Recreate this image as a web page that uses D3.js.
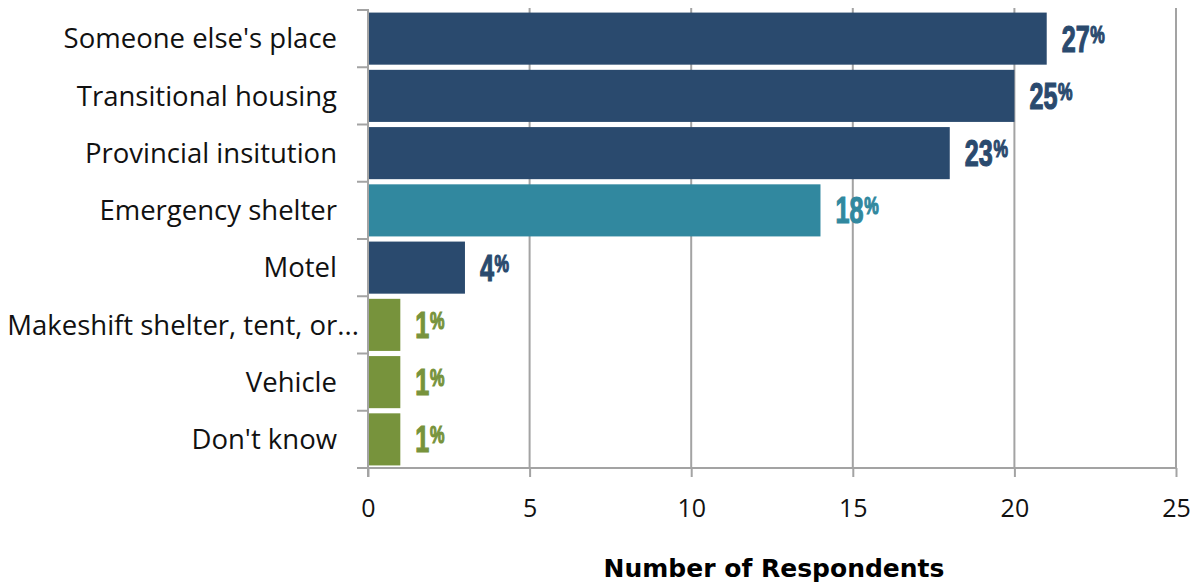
<!DOCTYPE html>
<html>
<head>
<meta charset="utf-8">
<script src="https://cdn.jsdelivr.net/npm/d3@7/dist/d3.min.js"></script>
<style>
  html, body { margin: 0; padding: 0; background: #fff; }
  svg { display: block; }
</style>
</head>
<body>
<svg id="chart" width="1198" height="583"></svg>
<script>
// Where respondents stayed: counts per category with their share labels
const categories = [
  "Someone else's place",
  "Transitional housing",
  "Provincial insitution",
  "Emergency shelter",
  "Motel",
  "Makeshift shelter, tent, or...",
  "Vehicle",
  "Don't know"
];
const counts = [21, 20, 18, 14, 3, 1, 1, 1];
const percents = ["27", "25", "23", "18", "4", "1", "1", "1"];
const groups = ["navy", "navy", "navy", "teal", "navy", "green", "green", "green"];
const xTicks = [0, 5, 10, 15, 20, 25];
const axisTitle = "Number of Respondents";

const palette = { navy: "#2a4a6e", teal: "#31889f", green: "#77933c" };
const gridColor = "#a3a3a3";

const svg = d3.select("#chart");
const plot = { left: 368, right: 1176, top: 10, bottom: 468 };

const x = d3.scaleLinear().domain([0, 25]).range([plot.left, plot.right]);
const y = d3.scaleBand()
  .domain(categories)
  .range([plot.top, plot.bottom])
  .paddingInner(0.09)
  .paddingOuter(0.045);

// vertical gridlines
svg.append("g")
  .selectAll("line")
  .data(xTicks.filter(t => t > 0))
  .join("line")
  .attr("x1", d => x(d)).attr("x2", d => x(d))
  .attr("y1", plot.top - 2).attr("y2", plot.bottom)
  .attr("stroke", gridColor).attr("stroke-width", 2);

// bars
const rows = categories.map((c, i) => ({ c, v: counts[i], p: percents[i], g: groups[i] }));
svg.append("g")
  .selectAll("rect")
  .data(rows)
  .join("rect")
  .attr("x", x(0) + 1)
  .attr("y", d => y(d.c))
  .attr("width", d => x(d.v) - x(0) - 1)
  .attr("height", y.bandwidth())
  .attr("fill", d => palette[d.g]);

// x axis
const xAxis = svg.append("g")
  .attr("transform", `translate(0,${plot.bottom})`)
  .call(d3.axisBottom(x).tickValues(xTicks).tickSize(9).tickPadding(22));
xAxis.select(".domain").remove();
xAxis.selectAll(".tick line").attr("stroke", gridColor).attr("stroke-width", 2);
xAxis.selectAll(".tick text")
  .attr("fill", "#111")
  .style("font-family", "'Open Sans', 'Noto Sans', sans-serif")
  .style("font-size", "25px");
svg.append("line")
  .attr("x1", plot.left - 11).attr("x2", plot.right + 1)
  .attr("y1", plot.bottom).attr("y2", plot.bottom)
  .attr("stroke", gridColor).attr("stroke-width", 2);

// y axis line with ticks at band boundaries
svg.append("line")
  .attr("x1", plot.left).attr("x2", plot.left)
  .attr("y1", plot.top - 1).attr("y2", plot.bottom + 9)
  .attr("stroke", gridColor).attr("stroke-width", 2);
const step = y.step();
const bounds = d3.range(categories.length).map(i => y(categories[i]) - step * y.paddingInner() / 2);
svg.append("g")
  .selectAll("line")
  .data(bounds)
  .join("line")
  .attr("x1", plot.left - 11).attr("x2", plot.left)
  .attr("y1", d => d).attr("y2", d => d)
  .attr("stroke", gridColor).attr("stroke-width", 2);

// category labels (truncated labels run closer to the axis)
svg.append("g")
  .selectAll("text")
  .data(categories)
  .join("text")
  .attr("x", d => d.endsWith("...") ? plot.left - 9 : plot.left - 31)
  .attr("y", d => y(d) + y.bandwidth() / 2)
  .attr("dy", "0.35em")
  .attr("text-anchor", "end")
  .attr("fill", "#111")
  .style("font-family", "'Open Sans', 'Noto Sans', sans-serif")
  .style("font-size", "27.5px")
  .text(d => d);

// value labels in a narrowed heavy face, % as a small superscript
const labels = svg.append("g")
  .selectAll("g")
  .data(rows)
  .join("g")
  .attr("transform", d => `translate(${x(d.v) + 15},${y(d.c) + y.bandwidth() / 2 + 13}) scale(0.68,1)`);
const lt = labels.append("text")
  .attr("fill", d => palette[d.g])
  .style("font-family", "'Liberation Sans', Arial, sans-serif")
  .style("font-weight", "bold")
  .style("stroke", d => palette[d.g])
  .style("stroke-width", 1.2);
lt.append("tspan").style("font-size", "37px").text(d => d.p);
lt.append("tspan").style("font-size", "24px").attr("dx", "1").attr("dy", "-9").text("%");

// axis title
svg.append("text")
  .attr("x", (plot.left + plot.right) / 2 + 2)
  .attr("y", 577)
  .attr("text-anchor", "middle")
  .attr("fill", "#000")
  .style("font-family", "'DejaVu Sans', Verdana, sans-serif")
  .style("font-weight", "bold")
  .style("font-size", "25px")
  .text(axisTitle);
</script>
</body>
</html>
